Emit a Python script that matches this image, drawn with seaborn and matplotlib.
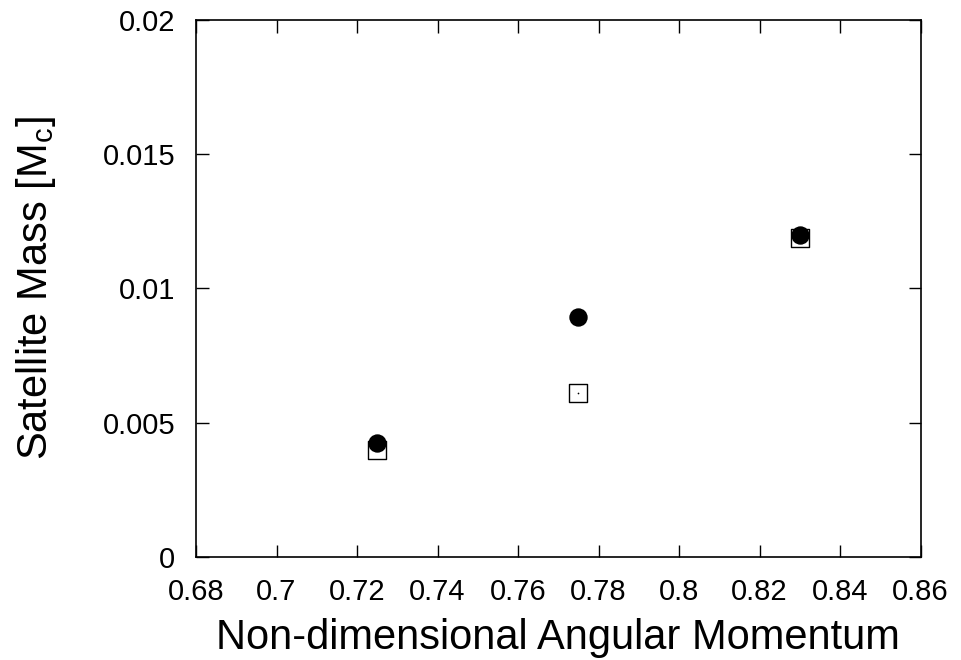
import numpy as np
import pandas as pd
import matplotlib.pyplot as plt
import seaborn as sns

# %% data
ang_mom = [0.725, 0.775, 0.83]
mass_filled = [0.00425, 0.00893, 0.01200]
mass_open = [0.00397, 0.00611, 0.01187]

df_filled = pd.DataFrame({'j': ang_mom, 'm': mass_filled})
df_open = pd.DataFrame({'j': ang_mom, 'm': mass_open})

# %% plot
sns.set_style("ticks")
plt.rcParams['font.family'] = ['Liberation Sans', 'DejaVu Sans']
plt.rcParams['text.color'] = 'black'
plt.rcParams['axes.labelcolor'] = 'black'
plt.rcParams['xtick.color'] = 'black'
plt.rcParams['ytick.color'] = 'black'

fig, ax = plt.subplots(1, 1, figsize=(9.61, 6.6), dpi=100)
fig.subplots_adjust(left=0.204, right=0.958, top=0.970, bottom=0.156)

sns.scatterplot(data=df_open, x='j', y='m', ax=ax, marker='s', s=175,
                facecolor='white', edgecolor='black', linewidth=1.0, zorder=2)
sns.scatterplot(data=df_open, x='j', y='m', ax=ax, marker='.', s=6,
                color='black', linewidth=0, zorder=3)
sns.scatterplot(data=df_filled, x='j', y='m', ax=ax, marker='o', s=175,
                color='black', linewidth=0, zorder=4)

ax.set_xlim(0.68, 0.86)
ax.set_ylim(0, 0.02)
ax.set_xticks(np.arange(0.68, 0.8601, 0.02))
ax.set_xticklabels(['0.68', '0.7', '0.72', '0.74', '0.76', '0.78', '0.8',
                    '0.82', '0.84', '0.86'])
ax.set_yticks([0, 0.005, 0.01, 0.015, 0.02])
ax.set_yticklabels(['0', '0.005', '0.01', '0.015', '0.02'])
ax.tick_params(direction='in', length=9, width=1, labelsize=21,
               top=True, right=True, color='black', labelcolor='black')
ax.tick_params(axis='x', pad=15)
ax.tick_params(axis='y', pad=15)
for sp in ax.spines.values():
    sp.set_linewidth(1.2)
    sp.set_color('black')

ax.set_xlabel('Non-dimensional Angular Momentum', fontsize=30)
ax.set_ylabel('Satellite Mass [M$_\\mathregular{c}$]', fontsize=30)
ax.xaxis.set_label_coords(0.5, -0.114)
ax.yaxis.set_label_coords(-0.19, 0.5)

plt.savefig('out.png', dpi=100)
